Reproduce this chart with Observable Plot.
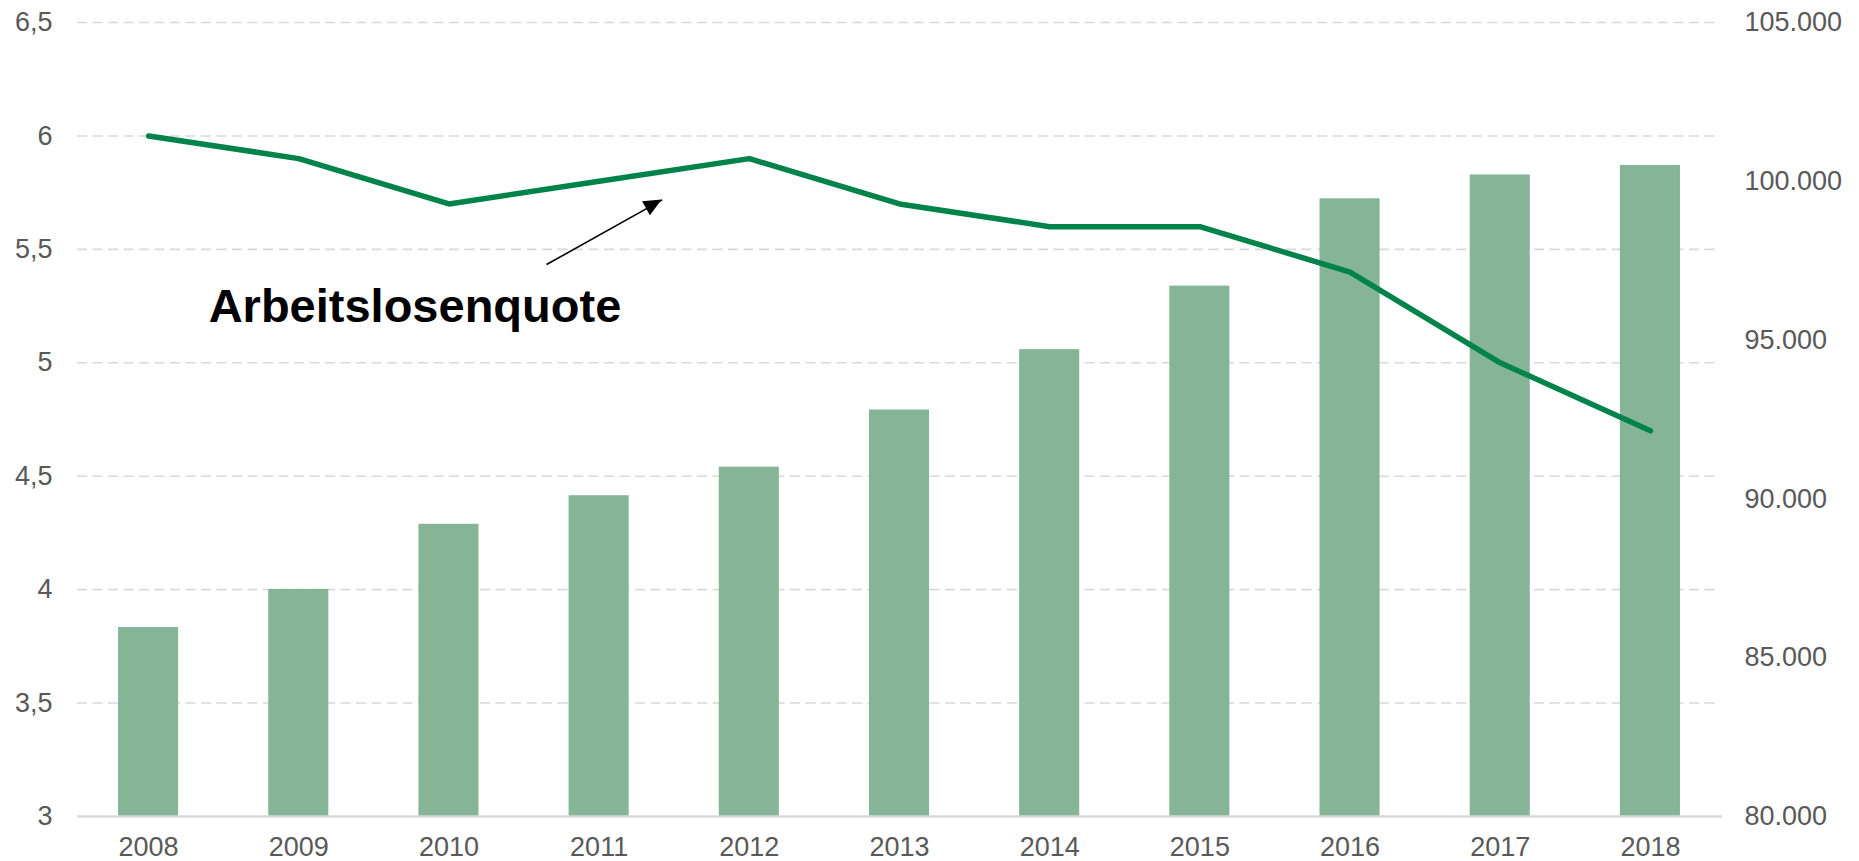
<!DOCTYPE html>
<html><head><meta charset="utf-8">
<script src="https://cdn.jsdelivr.net/npm/d3@7"></script>
<script src="https://cdn.jsdelivr.net/npm/@observablehq/plot@0.6"></script>
<style>html,body{margin:0;padding:0;background:#fff;} svg{display:block}</style>
</head><body><div id="chart"></div>
<script>
// ---- data ----
const years = [2008, 2009, 2010, 2011, 2012, 2013, 2014, 2015, 2016, 2017, 2018];
const employees = [85950, 87150, 89200, 90100, 91000, 92800, 94700, 96700, 99450, 100200, 100500];
const unemploymentRate = [6.0, 5.9, 5.7, 5.8, 5.9, 5.7, 5.6, 5.6, 5.4, 5.0, 4.7];
const leftTicks = [3, 3.5, 4, 4.5, 5, 5.5, 6, 6.5];
const rightTicks = [80000, 85000, 90000, 95000, 100000, 105000];
const annotationLabel = ["Arbeitslosenquote"];
const annotationText = [{x: 2008.40, y: 5.248}];
const annotationArrow = [{x1: 2010.65, y1: 5.433, x2: 2011.42, y2: 5.718}];

// ---- scales mapping (right axis onto left) ----
const leftDomain = [3, 6.5];
const rightDomain = [80000, 105000];
const toLeft = v => leftDomain[0] + (v - rightDomain[0]) / (rightDomain[1] - rightDomain[0]) * (leftDomain[1] - leftDomain[0]);
const fromLeft = v => rightDomain[0] + (v - leftDomain[0]) / (leftDomain[1] - leftDomain[0]) * (rightDomain[1] - rightDomain[0]);
const de = d3.formatLocale({decimal: ",", thousands: ".", grouping: [3], currency: ["", " €"]});
const fmtLeft = de.format("");
const fmtRight = de.format(",.0f");

const data = years.map((y, i) => ({year: y, emp: employees[i], rate: unemploymentRate[i]}));

const textColor = "#595959";
const gridColor = "#d9d9d9";
const tickFont = 27;

const plot = Plot.plot({
  width: 1859,
  height: 861,
  marginTop: 22,
  marginBottom: 45,
  marginLeft: 73,
  marginRight: 134,
  x: {domain: [2007.5, 2018.5], axis: null},
  y: {domain: leftDomain, axis: null},
  style: {fontFamily: "'Liberation Sans', Arial, sans-serif", fontSize: tickFont + "px", background: "#fff", color: textColor},
  marks: [
    Plot.gridY(leftTicks.filter(d => d > leftDomain[0]), {stroke: gridColor, strokeOpacity: 1, strokeWidth: 1.6, strokeDasharray: "10,5.5", insetLeft: 4, insetRight: 6}),
    Plot.rectY(data, {x1: d => d.year - 0.2, x2: d => d.year + 0.2, y1: leftDomain[0], y2: d => toLeft(d.emp), fill: "#85b596"}),
    Plot.ruleY([leftDomain[0]], {stroke: gridColor, strokeWidth: 2.5, insetLeft: 4, insetRight: 3}),
    Plot.line(data, {x: "year", y: "rate", stroke: "#00834a", strokeWidth: 5.5, strokeLinecap: "round", strokeLinejoin: "round"}),
    Plot.axisY(leftTicks, {anchor: "left", tickSize: 0, tickPadding: 21, tickFormat: fmtLeft, fill: textColor, fontSize: tickFont}),
    Plot.axisY(rightTicks.map(toLeft), {anchor: "right", tickSize: 0, tickPadding: 19, tickFormat: d => fmtRight(fromLeft(d)), fill: textColor, fontSize: tickFont}),
    Plot.axisX(years, {anchor: "bottom", tickSize: 0, tickPadding: 20, tickFormat: d => String(d), fill: textColor, fontSize: tickFont}),
    Plot.link(annotationArrow, {x1: "x1", y1: "y1", x2: "x2", y2: "y2", stroke: "#000", strokeWidth: 1.6}),
    Plot.text(annotationText, {x: "x", y: "y", text: (d, i) => annotationLabel[i], textAnchor: "start", lineAnchor: "middle", fontSize: 47, fontWeight: "bold", fill: "#000", fontFamily: "'Liberation Sans', Arial, sans-serif"})
  ]
});

const svgEl = plot.tagName.toLowerCase() === "svg" ? plot : plot.querySelector("svg");
// filled arrowhead, positioned through the plot's scales
const sx = plot.scale("x"), sy = plot.scale("y");
annotationArrow.forEach(a => {
  const x1 = sx.apply(a.x1), y1 = sy.apply(a.y1), x2 = sx.apply(a.x2), y2 = sy.apply(a.y2);
  const len = Math.hypot(x2 - x1, y2 - y1);
  const ux = (x2 - x1) / len, uy = (y2 - y1) / len;
  const L = 18, W = 8;
  const bx = x2 - ux * L, by = y2 - uy * L;
  const pts = [[x2, y2], [bx - uy * W, by + ux * W], [bx + uy * W, by - ux * W]];
  d3.select(svgEl).append("path").attr("d", "M" + pts.map(p => p.join(",")).join("L") + "Z").attr("fill", "#000");
});

document.getElementById("chart").appendChild(plot);
</script>
</body></html>
